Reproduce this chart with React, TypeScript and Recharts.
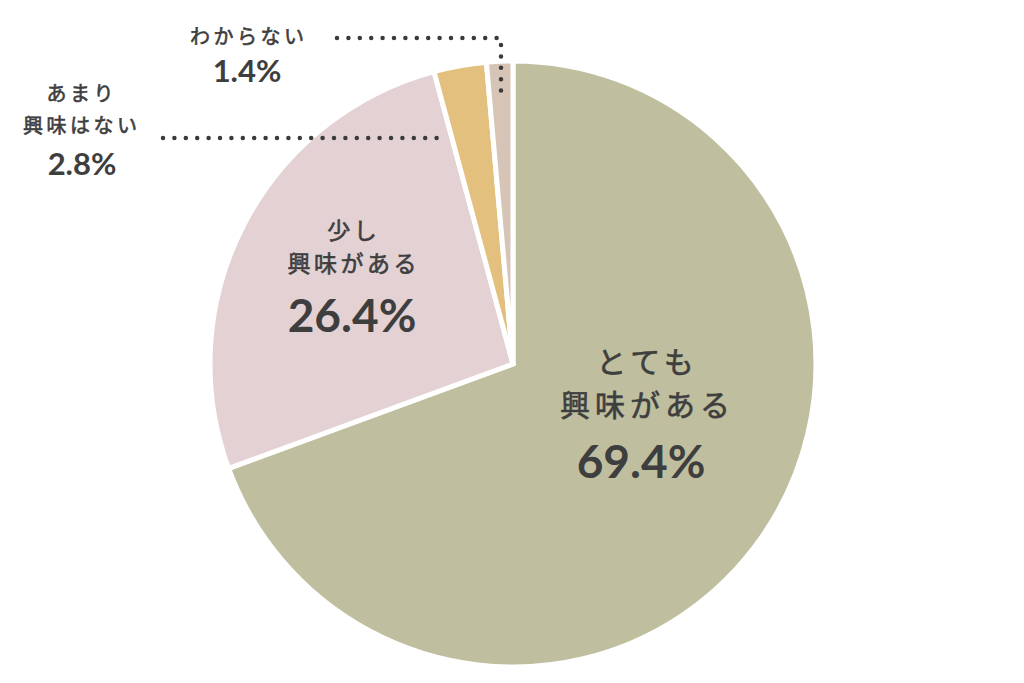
import React from 'react'
import { PieChart, Pie, Cell } from 'recharts'

// answers, clockwise from 12 o'clock
const categories = ['とても興味がある', '少し興味がある', 'あまり興味はない', 'わからない']
const shares = [69.4, 26.4, 2.8, 1.4]
const labelLines = [['とても', '興味がある'], ['少し', '興味がある'], ['あまり', '興味はない'], ['わからない']]
const colors = ['#bfbf9f', '#e3d1d4', '#e3c07e', '#d6c4b6']

const data = categories.map((name, i) => ({ name, value: shares[i] }))

const TEXT = '#3e3e3e'
const JP = "'Noto Sans CJK JP', 'Noto Sans', sans-serif"
const NUM = "Lato, 'Noto Sans', sans-serif"

// label block layout, offsets from the pie centre
const layout = [
  { x: 132, lines: [-4, 39], size: 30, spacing: 5, num: { x: 128, y: 96, size: 46 } },
  { x: -161, lines: [-135, -102], size: 23, spacing: 3.5, num: { x: -161, y: -50, size: 46 } },
  { x: -433, lines: [-272, -240], size: 20, spacing: 3.5, num: { x: -431, y: -201, size: 31 } },
  { x: -266, lines: [-329], size: 20, spacing: 3.5, num: { x: -266, y: -294, size: 31 } },
]

// dotted leader lines for the small slices
const leaders: Record<number, number[][]> = {
  2: [[-350, -226], [-68, -226]],
  3: [[-176, -326], [-12, -326], [-12, -264]],
}

function renderLabel(props: any) {
  const { cx, cy, index } = props
  const l = layout[index]
  const pts = leaders[index]
  return (
    <g key={`lbl-${index}`}>
      {pts && (
        <polyline
          points={pts.map(([x, y]) => `${cx + x},${cy + y}`).join(' ')}
          fill="none"
          stroke="#3a3a3a"
          strokeWidth={4.5}
          strokeLinecap="round"
          strokeDasharray="0 11.4"
        />
      )}
      {labelLines[index].map((t, j) => (
        <text
          key={j}
          x={cx + l.x + l.spacing / 2}
          y={cy + l.lines[j]}
          textAnchor="middle"
          dominantBaseline="central"
          fill={TEXT}
          stroke={TEXT}
          strokeWidth={0.6}
          fontFamily={JP}
          fontWeight={400}
          fontSize={l.size}
          letterSpacing={l.spacing}
        >
          {t}
        </text>
      ))}
      <text
        x={cx + l.num.x}
        y={cy + l.num.y}
        textAnchor="middle"
        dominantBaseline="central"
        fill={TEXT}
        fontFamily={NUM}
        fontWeight={700}
        fontSize={l.num.size}
      >
        {shares[index]}%
      </text>
    </g>
  )
}

export default function App() {
  return (
    <div style={{ position: 'absolute', left: 0, top: 0, width: 1024, height: 683, background: '#fff' }}>
      <PieChart width={1024} height={683} margin={{ top: 0, right: 0, bottom: 0, left: 0 }}>
        <Pie
          data={data}
          dataKey="value"
          nameKey="name"
          cx={513}
          cy={364}
          outerRadius={303}
          startAngle={90}
          endAngle={-270}
          stroke="#fff"
          strokeWidth={5}
          label={renderLabel}
          labelLine={false}
          isAnimationActive={false}
        >
          {data.map((d, i) => (
            <Cell key={d.name} fill={colors[i]} />
          ))}
        </Pie>
      </PieChart>
    </div>
  )
}
